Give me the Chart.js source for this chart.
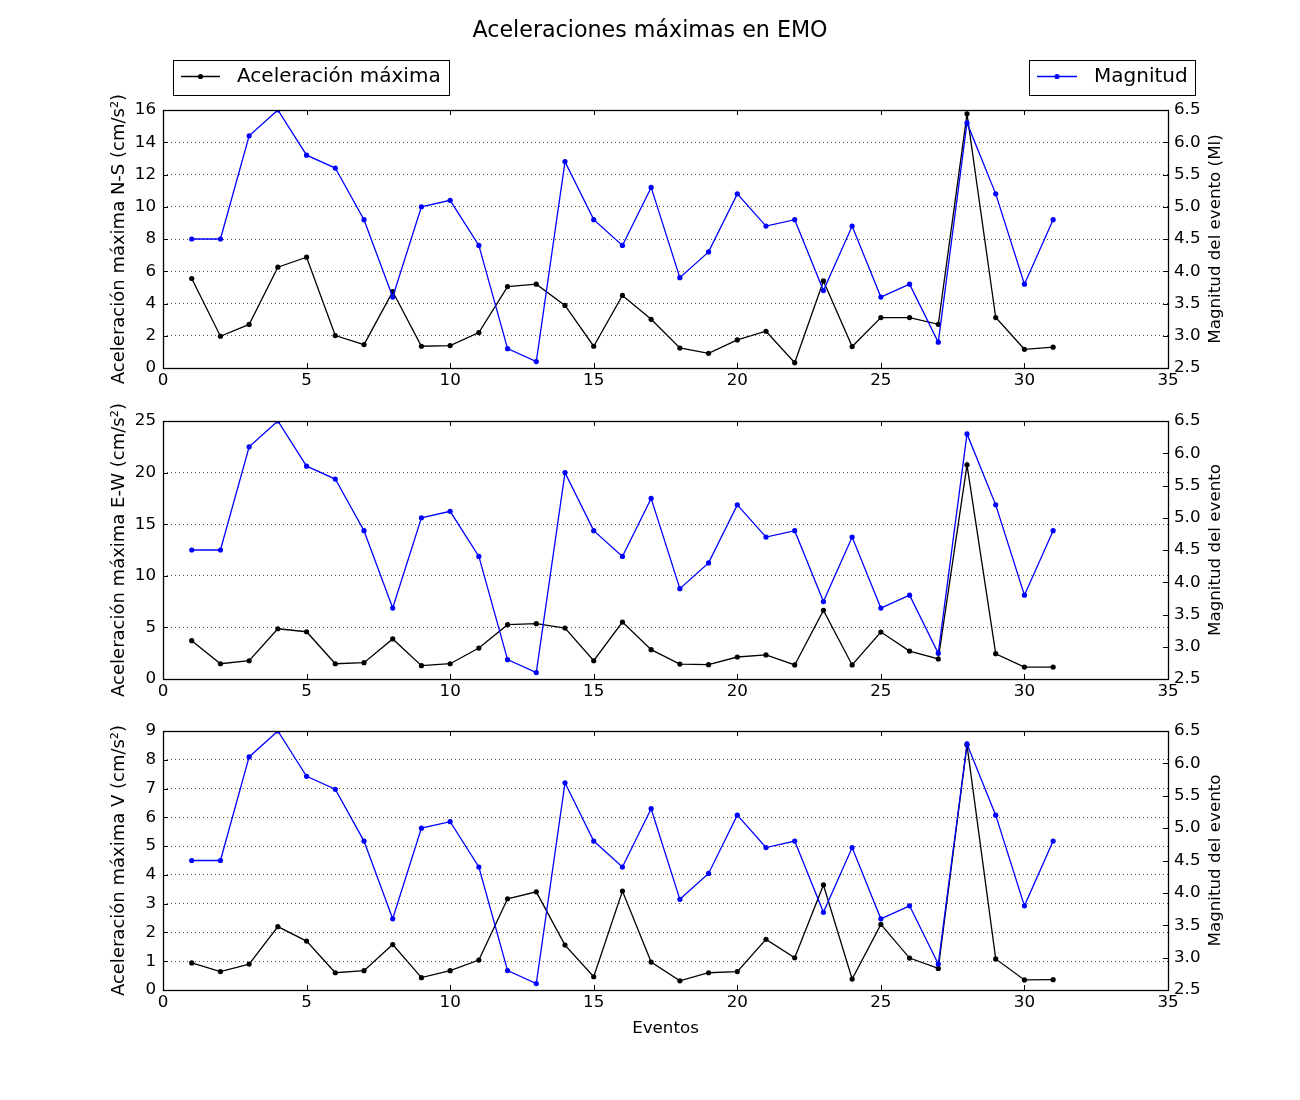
<!DOCTYPE html>
<html>
<head>
<meta charset="utf-8">
<script src="https://cdn.jsdelivr.net/npm/chart.js@4.4.0/dist/chart.umd.min.js"></script>
<style>
  body { margin: 0; background: #fff; }
  #wrap { position: relative; width: 1300px; height: 1100px; }
  #wrap canvas { position: absolute; left: 0; top: 0; }
</style>
</head>
<body>
<div id="wrap">
  <canvas id="c1" width="1300" height="1100"></canvas>
  <canvas id="c2" width="1300" height="1100"></canvas>
  <canvas id="c3" width="1300" height="1100"></canvas>
</div>
<script>
// ---- data ----
const events = [1,2,3,4,5,6,7,8,9,10,11,12,13,14,15,16,17,18,19,20,21,22,23,24,25,26,27,28,29,30,31];
const magnitud = [4.5,4.5,6.1,6.5,5.8,5.6,4.8,3.6,5.0,5.1,4.4,2.8,2.6,5.7,4.8,4.4,5.3,3.9,4.3,5.2,4.7,4.8,3.7,4.7,3.6,3.8,2.9,6.3,5.2,3.8,4.8];
const accNS = [5.55,1.97,2.70,6.25,6.87,2.01,1.45,4.74,1.35,1.39,2.20,5.05,5.20,3.88,1.35,4.50,3.02,1.24,0.91,1.74,2.28,0.33,5.40,1.33,3.13,3.13,2.71,15.76,3.13,1.16,1.29];
const accEW = [3.71,1.48,1.77,4.87,4.58,1.48,1.58,3.88,1.29,1.48,3.00,5.26,5.36,4.94,1.77,5.52,2.84,1.45,1.39,2.13,2.33,1.36,6.65,1.36,4.55,2.71,1.94,20.75,2.45,1.16,1.16];
const accV = [0.94,0.64,0.90,2.20,1.70,0.60,0.67,1.58,0.43,0.67,1.04,3.17,3.41,1.56,0.46,3.44,0.97,0.32,0.60,0.64,1.76,1.12,3.65,0.38,2.28,1.11,0.75,8.51,1.08,0.35,0.36];

const titleText = 'Aceleraciones máximas en EMO';
const legendAcc = 'Aceleración máxima';
const legendMag = 'Magnitud';
const xTitle = 'Eventos';
const leftTitles = ['Aceleración máxima N-S (cm/s²)', 'Aceleración máxima E-W (cm/s²)', 'Aceleración máxima V (cm/s²)'];
const rightTitles = ['Magnitud del evento (Ml)', 'Magnitud del evento', 'Magnitud del evento'];
const leftMax = [16, 25, 9];
const leftStep = [2, 5, 1];

const FONT = "'DejaVu Sans', sans-serif";
const W = 1300, H = 1100;
const PLOT_LEFT = 163, PLOT_RIGHT = 1168;
const panels = [
  { top: 110, bottom: 368 },
  { top: 421, bottom: 679 },
  { top: 731, bottom: 990 }
];

function pts(ys) { return events.map((x, i) => ({ x: x, y: ys[i] })); }

const framePlugin = {
  id: 'frame',
  afterDatasetsDraw(chart, args, opts) {
    const ctx = chart.ctx;
    const a = chart.chartArea;
    const tl = 5;
    ctx.save();
    ctx.strokeStyle = '#000';
    ctx.lineWidth = 1;
    ctx.beginPath();
    const ys = chart.scales.y, y1 = chart.scales.y1, xs = chart.scales.x;
    ys.ticks.forEach(t => {
      const p = Math.round(ys.getPixelForValue(t.value)) + 0.5;
      ctx.moveTo(a.left, p); ctx.lineTo(a.left + tl, p);
    });
    y1.ticks.forEach(t => {
      const p = Math.round(y1.getPixelForValue(t.value)) + 0.5;
      ctx.moveTo(a.right, p); ctx.lineTo(a.right - tl, p);
    });
    xs.ticks.forEach(t => {
      const p = Math.round(xs.getPixelForValue(t.value)) + 0.5;
      ctx.moveTo(p, a.bottom); ctx.lineTo(p, a.bottom - tl);
      ctx.moveTo(p, a.top); ctx.lineTo(p, a.top + tl);
    });
    ctx.stroke();
    ctx.lineWidth = 1.3;
    ctx.strokeRect(Math.round(a.left) + 0.5, Math.round(a.top) + 0.5, Math.round(a.right - a.left), Math.round(a.bottom - a.top));
    // axis titles
    ctx.fillStyle = '#000';
    ctx.textAlign = 'center';
    ctx.textBaseline = 'middle';
    const cy = (a.top + a.bottom) / 2;
    ctx.save();
    ctx.font = '18px ' + FONT;
    ctx.translate(119, cy);
    ctx.rotate(-Math.PI / 2);
    ctx.fillText(opts.left, 0, 0);
    ctx.restore();
    ctx.save();
    ctx.font = '16.7px ' + FONT;
    ctx.translate(1216, cy);
    ctx.rotate(-Math.PI / 2);
    ctx.fillText(opts.right, 0, 0);
    ctx.restore();
    if (opts.xTitle) {
      ctx.font = '16.7px ' + FONT;
      ctx.fillText(opts.xTitle, (a.left + a.right) / 2, 1029);
    }
    ctx.restore();
  }
};

const headerPlugin = {
  id: 'header',
  afterDraw(chart) {
    const ctx = chart.ctx;
    ctx.save();
    ctx.fillStyle = '#000';
    ctx.font = '22.2px ' + FONT;
    ctx.textAlign = 'center';
    ctx.textBaseline = 'middle';
    ctx.fillText(titleText, 650, 31);
    // legend boxes
    ctx.lineWidth = 1;
    ctx.strokeStyle = '#000';
    ctx.strokeRect(173.5, 60.5, 276, 35);
    ctx.strokeRect(1029.5, 60.5, 166, 35);
    const drawSample = (x0, x1, y, color) => {
      ctx.strokeStyle = color; ctx.fillStyle = color; ctx.lineWidth = 1.3;
      ctx.beginPath(); ctx.moveTo(x0, y); ctx.lineTo(x1, y); ctx.stroke();
      ctx.beginPath(); ctx.arc((x0 + x1) / 2, y, 2.6, 0, Math.PI * 2); ctx.fill();
    };
    drawSample(181, 220, 76.5, '#000');
    drawSample(1037, 1077, 76.5, '#0000ff');
    ctx.fillStyle = '#000';
    ctx.textAlign = 'left';
    ctx.font = '20px ' + FONT;
    ctx.fillText(legendAcc, 237, 77);
    ctx.fillText(legendMag, 1094, 77);
    ctx.restore();
  }
};

function makeChart(idx) {
  const p = panels[idx];
  const accs = [accNS, accEW, accV][idx];
  const plugins = [framePlugin];
  if (idx === 0) plugins.push(headerPlugin);
  return new Chart(document.getElementById('c' + (idx + 1)), {
    type: 'line',
    data: {
      datasets: [
        {
          label: legendMag,
          data: pts(magnitud),
          yAxisID: 'y1',
          borderColor: '#0000ff',
          backgroundColor: '#0000ff',
          borderWidth: 1.3,
          pointRadius: 2.6,
          pointBorderWidth: 0,
          tension: 0,
          fill: false
        },
        {
          label: legendAcc,
          data: pts(accs),
          yAxisID: 'y',
          borderColor: '#000000',
          backgroundColor: '#000000',
          borderWidth: 1.3,
          pointRadius: 2.6,
          pointBorderWidth: 0,
          tension: 0,
          fill: false
        }
      ]
    },
    options: {
      responsive: false,
      animation: false,
      devicePixelRatio: 1,
      events: [],
      layout: { padding: { top: p.top, left: 0, right: 0, bottom: 0 } },
      plugins: {
        legend: { display: false },
        title: { display: false },
        tooltip: { enabled: false },
        frame: { left: leftTitles[idx], right: rightTitles[idx], xTitle: idx === 2 ? xTitle : null }
      },
      scales: {
        x: {
          type: 'linear',
          min: 0, max: 35,
          ticks: { stepSize: 5, color: '#000', font: { family: FONT, size: 16.7 }, padding: 3, maxRotation: 0 },
          grid: { display: false, drawTicks: false },
          border: { display: false },
          afterFit(s) { s.height = H - p.bottom; }
        },
        y: {
          type: 'linear',
          position: 'left',
          min: 0, max: leftMax[idx],
          ticks: { stepSize: leftStep[idx], color: '#000', font: { family: FONT, size: 16.7 }, padding: 7 },
          grid: { display: true, drawTicks: false, color: 'rgba(0,0,0,0.85)', lineWidth: 0.8 },
          border: { display: false, dash: [1, 3] },
          afterFit(s) { s.width = PLOT_LEFT; }
        },
        y1: {
          type: 'linear',
          position: 'right',
          min: 2.5, max: 6.5,
          ticks: { stepSize: 0.5, color: '#000', font: { family: FONT, size: 16.7 }, padding: 6,
                   callback: v => Number(v).toFixed(1) },
          grid: { display: false, drawTicks: false },
          border: { display: false },
          afterFit(s) { s.width = W - PLOT_RIGHT; }
        }
      }
    },
    plugins: plugins
  });
}

makeChart(0);
makeChart(1);
makeChart(2);
</script>
</body>
</html>
